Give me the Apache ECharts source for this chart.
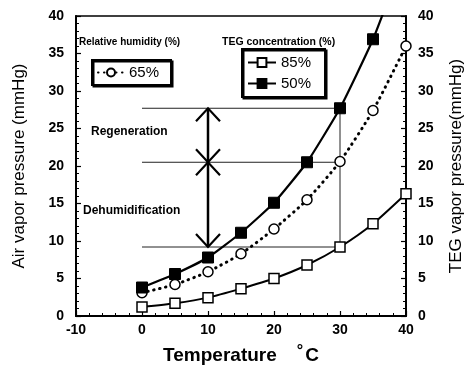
<!DOCTYPE html>
<html><head><meta charset="utf-8">
<script src="https://cdn.jsdelivr.net/npm/echarts@6/dist/echarts.min.js"></script>
<style>html,body{margin:0;padding:0;background:#fff}#c{width:474px;height:366px}</style>
</head><body><div id="c"></div>
<script>
const temps = [0, 5, 10, 15, 20, 25, 30, 35, 40];
const rh65 = [3.1, 4.2, 5.9, 8.3, 11.6, 15.5, 20.6, 27.4, 36.0];
const teg85 = [1.2, 1.7, 2.45, 3.65, 5.0, 6.8, 9.2, 12.3, 16.3];
const teg50 = [3.8, 5.6, 7.8, 11.1, 15.1, 20.5, 27.7, 36.9, 48.5];
const xTicks = [-10, 0, 10, 20, 30, 40];
const yTicks = [0, 5, 10, 15, 20, 25, 30, 35, 40];
// reference levels: regeneration top, middle, dehumidification bottom
const levels = [27.7, 20.5, 9.2];
const levelXFrom = 0, levelXTo = 30, arrowX = 10;

const font = 'Liberation Sans, Arial, sans-serif';
const pair = (xs, ys) => xs.map((x, i) => [x, ys[i]]);
const d50 = pair(temps, teg50).map((p, i) => i === temps.length - 1 ? { value: p, symbol: 'none' } : p);

const chart = echarts.init(document.getElementById('c'), null, { renderer: 'canvas' });

const axisLabel = { color: '#000', fontFamily: font, fontSize: 14, fontWeight: 'bold' };
const yAxisCommon = {
  type: 'value', min: 0, max: 40, interval: 5,
  axisLine: { show: true, onZero: false, lineStyle: { color: '#000', width: 2 } },
  axisTick: { show: true, inside: true, length: 5, lineStyle: { color: '#000', width: 1.2 } },
  minorTick: { show: true, splitNumber: 5, length: 3, lineStyle: { color: '#000', width: 1 } },
  splitLine: { show: false },
  axisLabel: Object.assign({}, axisLabel, { margin: 12, formatter: v => yTicks.includes(v) ? String(v) : '' }),
  nameLocation: 'middle',
  nameTextStyle: { color: '#000', fontFamily: font, fontSize: 17 }
};

const hLines = levels.map(l => ({
  type: 'line', yAxisIndex: 0, data: [[levelXFrom, l], [levelXTo, l]],
  symbol: 'none', silent: true, z: 1,
  lineStyle: { color: '#222', width: 1 }
}));

chart.setOption({
  animation: false,
  grid: { left: 76, right: 68, top: 16, bottom: 50, show: true, borderColor: '#000', borderWidth: 1.5, outerBoundsMode: 'none', containLabel: false },
  xAxis: {
    type: 'value', min: -10, max: 40, interval: 10,
    axisLine: { show: true, onZero: false, lineStyle: { color: '#000', width: 2 } },
    axisTick: { show: true, inside: true, length: 5, lineStyle: { color: '#000', width: 1.2 } },
    minorTick: { show: true, splitNumber: 5, length: 3, lineStyle: { color: '#000', width: 1 } },
    splitLine: { show: false },
    axisLabel: Object.assign({}, axisLabel, { margin: 7, formatter: v => xTicks.includes(v) ? String(v) : '' }),
    name: '{a|Temperature}      {s|°}{a|C}',
    nameLocation: 'middle', nameGap: 28,
    nameTextStyle: {
      color: '#000', fontFamily: font,
      rich: {
        a: { fontSize: 19, fontWeight: 'bold', fontFamily: font, color: '#000' },
        s: { fontSize: 16, fontWeight: 'bold', fontFamily: font, color: '#000', verticalAlign: 'top', padding: [0, 2, 8, 0] }
      }
    }
  },
  yAxis: [
    Object.assign({}, yAxisCommon, { position: 'left', name: 'Air vapor pressure (mmHg)', nameGap: 48 }),
    Object.assign({}, yAxisCommon, { position: 'right', name: 'TEG vapor pressure(mmHg)', nameGap: 42, nameRotate: 90 })
  ],
  legend: [
    {
      data: ['65%'], left: 92, top: 60, orient: 'vertical',
      itemWidth: 26, itemHeight: 10, itemGap: 6,
      padding: [5, 12, 5, 5],
      borderColor: '#000', borderWidth: 2,
      shadowColor: '#000', shadowOffsetX: 1.5, shadowOffsetY: 1.5,
      textStyle: { color: '#000', fontFamily: font, fontSize: 15 }
    },
    {
      data: ['85%', '50%'], left: 242, top: 49, orient: 'vertical',
      itemWidth: 28, itemHeight: 11, itemGap: 6,
      padding: [6, 14, 6, 5],
      borderColor: '#000', borderWidth: 2,
      shadowColor: '#000', shadowOffsetX: 1.5, shadowOffsetY: 1.5,
      textStyle: { color: '#000', fontFamily: font, fontSize: 15 }
    }
  ],
  graphic: [
    { type: 'text', left: 79, top: 37, style: { text: 'Relative humidity (%)', fill: '#000', font: 'bold 10px ' + font } },
    { type: 'text', left: 222, top: 37, style: { text: 'TEG concentration (%)', fill: '#000', font: 'bold 10.5px ' + font } },
    { type: 'text', left: 91, top: 126, style: { text: 'Regeneration', fill: '#000', font: 'bold 12px ' + font } },
    { type: 'text', left: 83, top: 205, style: { text: 'Dehumidification', fill: '#000', font: 'bold 12px ' + font } }
  ],
  series: hLines.concat([
    {
      type: 'line', yAxisIndex: 0, data: [[levelXTo, levels[0]], [levelXTo, levels[2]]],
      symbol: 'none', silent: true, z: 1, lineStyle: { color: '#222', width: 1 }
    },
    {
      type: 'custom', yAxisIndex: 0, data: [[arrowX, levels[0], levels[1], levels[2]]], z: 5, silent: true,
      renderItem: (params, api) => {
        const top = api.coord([api.value(0), api.value(1)]);
        const mid = api.coord([api.value(0), api.value(2)]);
        const bot = api.coord([api.value(0), api.value(3)]);
        const w = 12, h = 13;
        const st = { stroke: '#000', lineWidth: 2.2, fill: null };
        const pl = pts => ({ type: 'polyline', shape: { points: pts }, style: st });
        return {
          type: 'group', children: [
            { type: 'line', shape: { x1: top[0], y1: top[1], x2: bot[0], y2: bot[1] }, style: { stroke: '#000', lineWidth: 2.5 } },
            pl([[top[0] - w, top[1] + h], [top[0], top[1]], [top[0] + w, top[1] + h]]),
            pl([[mid[0] - w, mid[1] - h], [mid[0], mid[1]], [mid[0] + w, mid[1] - h]]),
            pl([[mid[0] - w, mid[1] + h], [mid[0], mid[1]], [mid[0] + w, mid[1] + h]]),
            pl([[bot[0] - w, bot[1] - h], [bot[0], bot[1]], [bot[0] + w, bot[1] - h]])
          ]
        };
      }
    },
    {
      name: '65%', type: 'line', yAxisIndex: 0, data: pair(temps, rh65), smooth: 0.2,
      symbol: 'circle', symbolSize: 10, z: 3,
      lineStyle: { color: '#000', width: 3, type: [0.5, 5.5], cap: 'round' },
      itemStyle: { color: '#fff', borderColor: '#000', borderWidth: 1.5 }
    },
    {
      name: '85%', type: 'line', yAxisIndex: 1, data: pair(temps, teg85), smooth: 0.2,
      symbol: 'rect', symbolSize: 10, z: 3,
      lineStyle: { color: '#000', width: 2 },
      itemStyle: { color: '#fff', borderColor: '#000', borderWidth: 1.5 }
    },
    {
      name: '50%', type: 'line', yAxisIndex: 1, data: d50, smooth: 0.15, clip: true,
      symbol: 'rect', symbolSize: 11, z: 3,
      lineStyle: { color: '#000', width: 2.2 },
      itemStyle: { color: '#000', borderColor: '#000', borderWidth: 1 }
    }
  ])
});
</script></body></html>
